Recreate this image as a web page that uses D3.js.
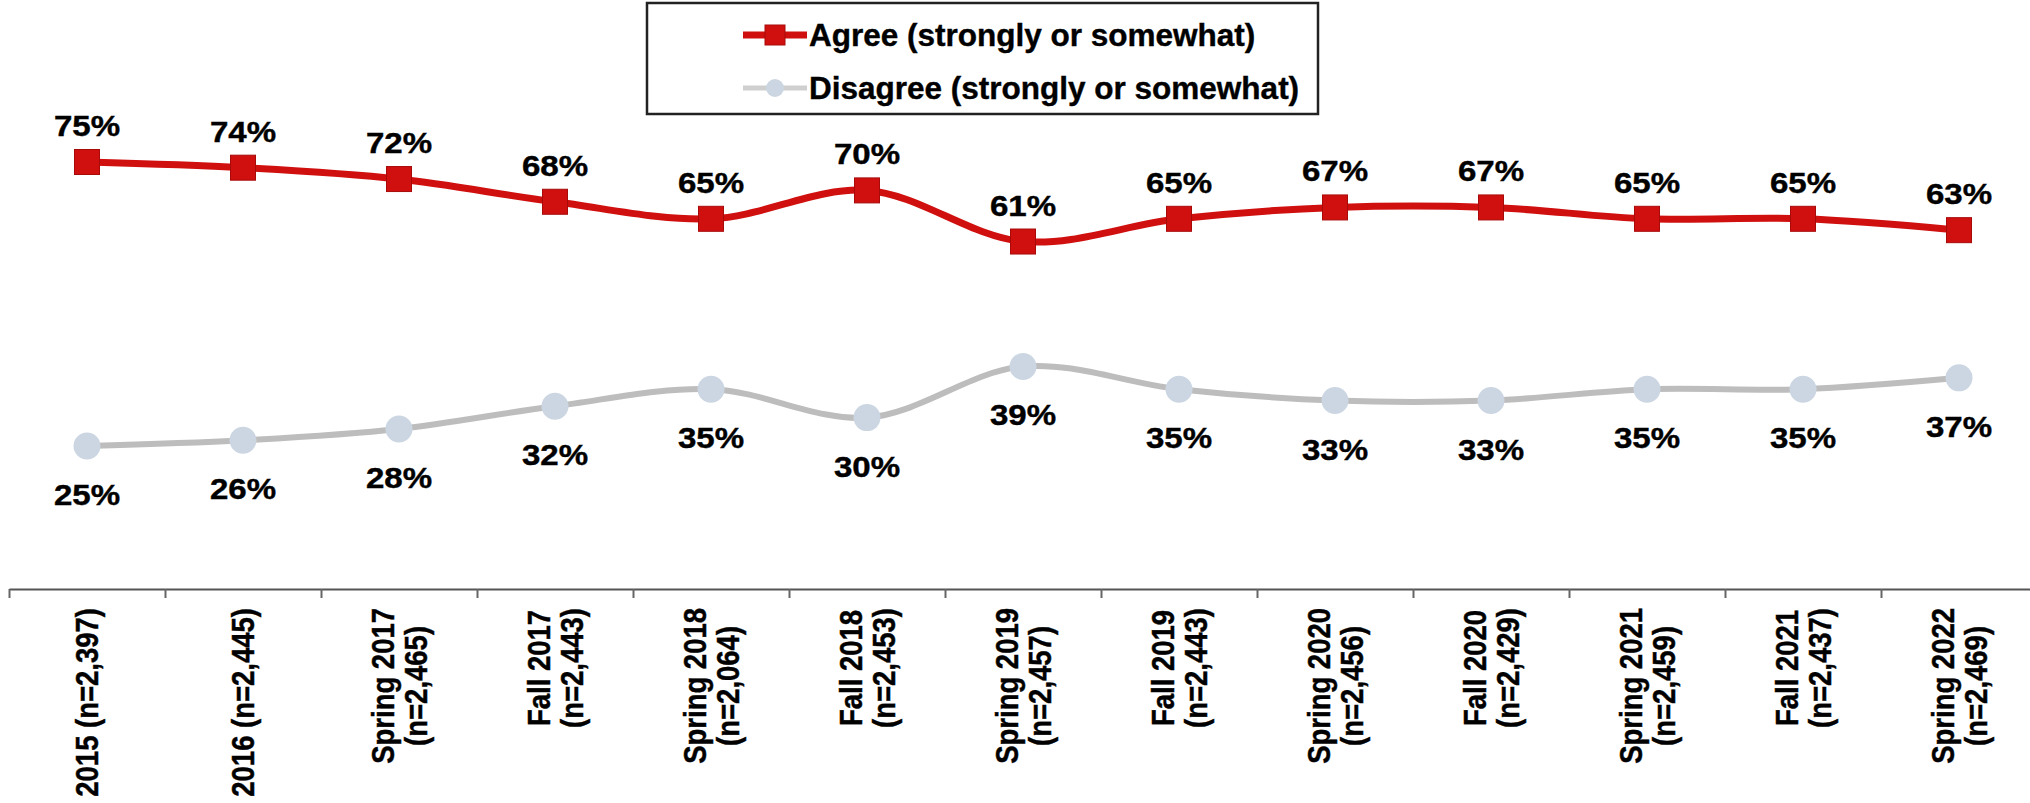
<!DOCTYPE html>
<html>
<head>
<meta charset="utf-8">
<script src="https://cdn.jsdelivr.net/npm/d3@7"></script>
<style>
  html, body { margin: 0; padding: 0; background: #ffffff; }
  svg { display: block; font-family: "Liberation Sans", Arial, sans-serif; }
</style>
</head>
<body>
<svg id="chart" width="2030" height="803"></svg>
<script>
// Survey waves (line breaks split the wave name from the sample size)
const categories = [
  "2015 (n=2,397)",
  "2016 (n=2,445)",
  "Spring 2017\n(n=2,465)",
  "Fall 2017\n(n=2,443)",
  "Spring 2018\n(n=2,064)",
  "Fall 2018\n(n=2,453)",
  "Spring 2019\n(n=2,457)",
  "Fall 2019\n(n=2,443)",
  "Spring 2020\n(n=2,456)",
  "Fall 2020\n(n=2,429)",
  "Spring 2021\n(n=2,459)",
  "Fall 2021\n(n=2,437)",
  "Spring 2022\n(n=2,469)"
];
const agreeValues    = [75, 74, 72, 68, 65, 70, 61, 65, 67, 67, 65, 65, 63];
const disagreeValues = [25, 26, 28, 32, 35, 30, 39, 35, 33, 33, 35, 35, 37];
const seriesNames = ["Agree (strongly or somewhat)", "Disagree (strongly or somewhat)"];

const svg = d3.select("#chart");

const plotLeft = 9, step = 156;
const plotRight = plotLeft + step * categories.length;
const axisY = 589;

const x = d3.scaleBand().domain(categories).range([plotLeft, plotRight]).padding(0);
const y = d3.scaleLinear().domain([0, 100]).range([588, 20]);
const xBound = d3.scaleLinear().domain([0, categories.length]).range([plotLeft, plotRight]);

const cx = c => x(c) + x.bandwidth() / 2;

const RED = "#d0100f", RED_DARK = "#a80a0a";
const GRAY_LINE = "#bdbdbd", GRAY_MARK = "#cbd6e2";
const TEXT_STRETCH = 1.14;   // wide bold face used for all chart text

// Category axis: baseline with ticks at the category boundaries
const tickAxis = d3.axisBottom(xBound)
  .tickValues(d3.range(categories.length + 1))
  .tickFormat("")
  .tickSizeInner(9)
  .tickSizeOuter(0);
const gTicks = svg.append("g").attr("transform", `translate(0,${axisY})`).call(tickAxis);
gTicks.select(".domain").attr("stroke", "#555").attr("stroke-width", 2.2);
gTicks.selectAll(".tick line").attr("stroke", "#666").attr("stroke-width", 2);

// Category labels, rotated and aligned to the top under the axis
const labelAxis = d3.axisBottom(x).tickSize(0).tickFormat("");
const gLabels = svg.append("g").attr("transform", `translate(0,${axisY})`).call(labelAxis);
gLabels.select(".domain").remove();
const labelTop = 19, lineH = 33, labelSize = 27.5;
gLabels.selectAll(".tick").each(function(d) {
  const g = d3.select(this);
  g.select("text").remove();
  const lines = d.split("\n");
  const t = g.append("text")
    .attr("transform", `scale(${TEXT_STRETCH + 0.02},1) rotate(-90)`)
    .attr("fill", "#000")
    .attr("stroke", "#000")
    .attr("stroke-width", 0.4)
    .attr("font-size", labelSize)
    .attr("font-weight", "bold")
    .attr("text-anchor", "middle");
  const spans = lines.map((ln, i) => t.append("tspan")
    .attr("y", (i - (lines.length - 1) / 2) * (lineH / (TEXT_STRETCH + 0.02)))
    .attr("dy", "0.36em")
    .text(ln));
  const len = d3.max(spans, s => s.node().getComputedTextLength());
  spans.forEach(s => s.attr("x", -(labelTop + len / 2)));
});

// Smoothed series lines
const line = vals => d3.line()
  .x((v, i) => cx(categories[i]))
  .y(v => y(v))
  .curve(d3.curveCatmullRom.alpha(0.5))(vals);

svg.append("path")
  .attr("d", line(disagreeValues))
  .attr("fill", "none")
  .attr("stroke", GRAY_LINE)
  .attr("stroke-width", 6);

svg.append("path")
  .attr("d", line(agreeValues))
  .attr("fill", "none")
  .attr("stroke", RED)
  .attr("stroke-width", 7);

// Markers
const sq = 25;
svg.append("g").selectAll("rect")
  .data(agreeValues)
  .join("rect")
  .attr("x", (v, i) => cx(categories[i]) - sq / 2)
  .attr("y", v => y(v) - sq / 2)
  .attr("width", sq).attr("height", sq)
  .attr("fill", RED)
  .attr("stroke", RED_DARK)
  .attr("stroke-width", 1);

svg.append("g").selectAll("circle")
  .data(disagreeValues)
  .join("circle")
  .attr("cx", (v, i) => cx(categories[i]))
  .attr("cy", v => y(v))
  .attr("r", 13.5)
  .attr("fill", GRAY_MARK);

// Value labels
const valSize = 29;
function valueLabels(vals, offset) {
  svg.append("g").selectAll("text")
    .data(vals)
    .join("text")
    .attr("transform", (v, i) =>
      `translate(${cx(categories[i])},${y(v) + offset}) scale(${TEXT_STRETCH},1)`)
    .attr("text-anchor", "middle")
    .attr("font-size", valSize)
    .attr("font-weight", "bold")
    .attr("fill", "#000")
    .attr("stroke", "#000")
    .attr("stroke-width", 0.4)
    .text(v => v + "%");
}
valueLabels(agreeValues, -26);
valueLabels(disagreeValues, 59);

// Legend
const legend = svg.append("g");
legend.append("rect")
  .attr("x", 647).attr("y", 3)
  .attr("width", 671).attr("height", 111)
  .attr("fill", "#fff")
  .attr("stroke", "#222")
  .attr("stroke-width", 2.5);

const rowY = [35, 88];
const symX0 = 743, symX1 = 807, symC = 775;
legend.append("line")
  .attr("x1", symX0).attr("x2", symX1).attr("y1", rowY[0]).attr("y2", rowY[0])
  .attr("stroke", RED).attr("stroke-width", 7);
legend.append("rect")
  .attr("x", symC - 10).attr("y", rowY[0] - 10).attr("width", 20).attr("height", 20)
  .attr("fill", RED).attr("stroke", RED_DARK).attr("stroke-width", 1);
legend.append("line")
  .attr("x1", symX0).attr("x2", symX1).attr("y1", rowY[1]).attr("y2", rowY[1])
  .attr("stroke", "#cfcfcf").attr("stroke-width", 5);
legend.append("circle")
  .attr("cx", symC).attr("cy", rowY[1]).attr("r", 9)
  .attr("fill", GRAY_MARK);

legend.selectAll("text.lg")
  .data(seriesNames)
  .join("text")
  .attr("class", "lg")
  .attr("x", 809)
  .attr("y", (d, i) => rowY[i] + 11)
  .attr("font-size", 31.5)
  .attr("font-weight", "bold")
  .attr("fill", "#000")
  .attr("stroke", "#000")
  .attr("stroke-width", 0.4)
  .text(d => d);
</script>
</body>
</html>
